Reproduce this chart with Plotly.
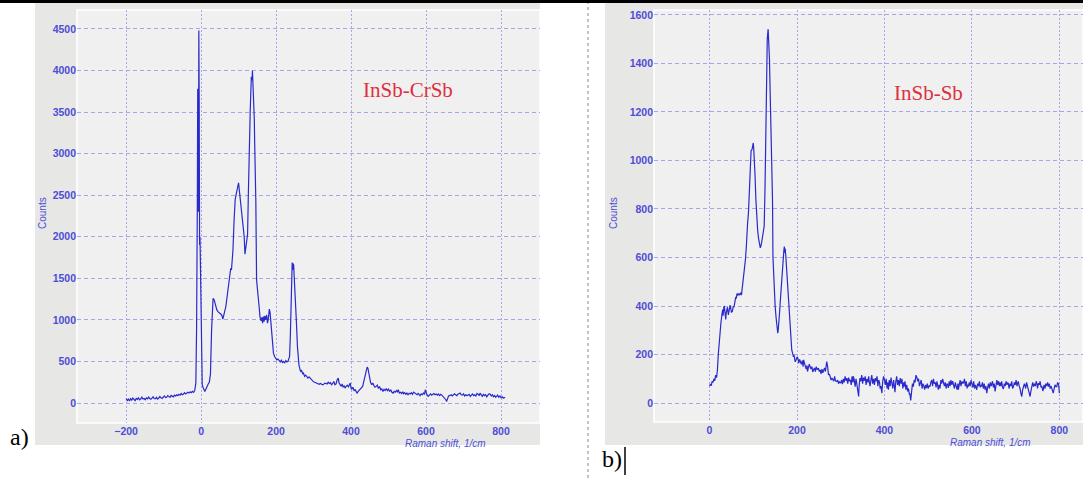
import plotly.graph_objects as go

W, H = 1083, 478

# ---------------- data ----------------
left_points = [
    (-200, 55), (-197, 30), (-194, 48), (-191, 25), (-188, 52), (-185, 35), (-182, 60), (-179, 40),
    (-176, 28), (-173, 55), (-170, 45), (-167, 62), (-164, 38), (-161, 50), (-158, 70), (-155, 48),
    (-152, 55), (-149, 40), (-146, 62), (-143, 50), (-140, 72), (-137, 55), (-134, 45), (-131, 60),
    (-128, 75), (-125, 55), (-122, 50), (-119, 68), (-116, 48), (-113, 60), (-110, 78), (-107, 62),
    (-104, 55), (-101, 72), (-98, 85), (-95, 65), (-92, 70), (-89, 90), (-86, 72), (-83, 68),
    (-80, 92), (-77, 80), (-74, 75), (-71, 95), (-68, 85), (-65, 100), (-62, 90), (-59, 105),
    (-56, 95), (-53, 115), (-50, 100), (-47, 108), (-44, 125), (-41, 110), (-38, 118), (-35, 130),
    (-32, 120), (-29, 135), (-26, 125), (-23, 140), (-20, 128), (-17, 150), (-14, 240), (-12, 900),
    (-10, 2400), (-9, 3780), (-8, 3500), (-7, 2300), (-6, 4480), (-5, 3600), (-4, 1900), (-3, 2000),
    (-2, 1740), (0, 1000), (1, 400), (3, 220), (5, 190), (8, 150), (10, 140), (13, 170),
    (16, 210), (19, 230), (22, 250), (25, 350), (28, 880), (30, 1150), (32, 1260), (35, 1240),
    (38, 1170), (42, 1120), (45, 1100), (48, 1090), (52, 1080), (55, 1060), (58, 1010), (60, 1040),
    (63, 1100), (66, 1160), (70, 1300), (73, 1420), (76, 1550), (79, 1620), (81, 1600), (83, 1700),
    (85, 1840), (88, 2200), (91, 2450), (94, 2520), (97, 2600), (100, 2650), (102, 2560), (104, 2480),
    (106, 2435), (109, 2300), (112, 2150), (115, 2000), (117, 1790), (119, 1850), (122, 1960), (124, 2030),
    (126, 2500), (128, 3000), (131, 3500), (134, 3925), (136, 3880), (137, 4000), (139, 3800), (140, 3720),
    (142, 3400), (143, 3120), (145, 2700), (146, 2430), (148, 1480), (150, 1350), (152, 1300), (155, 1150),
    (157, 1040), (160, 990), (162, 1030), (164, 960), (166, 1040), (168, 980), (170, 1050), (172, 1000),
    (175, 1060), (177, 960), (179, 1000), (182, 1130), (184, 1090), (186, 1000), (188, 880), (190, 760),
    (193, 600), (196, 560), (199, 540), (202, 520), (205, 530), (208, 508), (211, 495), (214, 515),
    (217, 488), (220, 500), (223, 485), (226, 510), (229, 495), (232, 505), (234, 530), (236, 560),
    (238, 800), (240, 1200), (242, 1500), (243, 1690), (244, 1600), (245, 1680), (247, 1660), (248, 1550),
    (250, 1400), (252, 1280), (254, 1000), (257, 680), (259, 550), (261, 460), (264, 400), (266, 380),
    (268, 390), (271, 352), (273, 360), (276, 320), (279, 335), (282, 310), (285, 300), (288, 315),
    (291, 300), (294, 280), (297, 270), (300, 255), (303, 250), (306, 245), (309, 240), (312, 230),
    (315, 225), (318, 235), (321, 228), (324, 220), (327, 225), (330, 240), (333, 235), (336, 230),
    (339, 250), (342, 235), (345, 245), (348, 220), (351, 235), (354, 260), (357, 220), (360, 230),
    (363, 280), (366, 300), (368, 240), (371, 220), (374, 200), (376, 230), (379, 190), (382, 210),
    (384, 180), (387, 200), (390, 215), (393, 195), (396, 232), (398, 240), (400, 175), (402, 168),
    (405, 190), (408, 150), (411, 160), (414, 130), (416, 120), (419, 140), (422, 155), (425, 170),
    (428, 180), (431, 200), (434, 260), (437, 320), (440, 380), (443, 432), (445, 420), (447, 360),
    (449, 320), (452, 250), (455, 220), (458, 240), (461, 210), (464, 190), (467, 200), (470, 215),
    (473, 175), (476, 200), (479, 160), (482, 170), (485, 140), (488, 165), (491, 150), (494, 175),
    (497, 150), (500, 168), (503, 140), (506, 160), (509, 130), (512, 120), (515, 140), (518, 130),
    (521, 150), (524, 135), (526, 160), (529, 120), (532, 130), (535, 115), (538, 135), (540, 112),
    (543, 125), (546, 105), (549, 120), (552, 100), (555, 118), (558, 110), (561, 125), (564, 105),
    (567, 132), (570, 120), (573, 110), (576, 100), (579, 115), (582, 95), (584, 88), (587, 110),
    (590, 100), (593, 120), (596, 105), (598, 160), (600, 120), (603, 95), (606, 80), (609, 100),
    (612, 110), (615, 95), (618, 105), (621, 115), (624, 100), (627, 108), (630, 95), (633, 110),
    (636, 90), (639, 105), (642, 95), (645, 80), (648, 70), (651, 60), (653, 40), (655, 20),
    (657, 60), (660, 85), (664, 92), (667, 100), (670, 85), (673, 95), (676, 110), (679, 100),
    (682, 90), (685, 105), (688, 115), (691, 120), (694, 100), (697, 95), (700, 110), (703, 85),
    (706, 100), (709, 90), (712, 95), (715, 105), (718, 80), (721, 95), (724, 110), (727, 90),
    (730, 100), (733, 85), (736, 115), (739, 105), (742, 90), (744, 120), (747, 95), (750, 80),
    (753, 105), (756, 90), (759, 100), (762, 75), (765, 95), (768, 110), (771, 108), (774, 85),
    (777, 100), (780, 75), (783, 90), (786, 70), (788, 80), (791, 95), (794, 70), (797, 85),
    (800, 65), (803, 75), (806, 60), (808, 68), (811, 60),
]

right_points = [
    (0, 70), (2, 78), (4, 72), (6, 90), (8, 85), (10, 100), (12, 92), (14, 115), (16, 105), (18, 135),
    (20, 200), (22, 260), (24, 300), (26, 330), (28, 360), (30, 385), (31, 360), (33, 400), (34, 397),
    (35, 380), (37, 345), (38, 370), (40, 384), (41, 395), (43, 363), (44, 375), (46, 390), (47, 404),
    (49, 385), (50, 375), (52, 377), (54, 395), (56, 397), (58, 420), (60, 438), (61, 430), (63, 452),
    (65, 445), (67, 450), (69, 445), (71, 455), (73, 445), (74, 459), (76, 490), (78, 521), (80, 560),
    (82, 590), (84, 640), (85, 685), (87, 740), (89, 784), (91, 900), (93, 1000), (95, 1040), (97, 1044),
    (98, 1060), (100, 1072), (101, 1050), (103, 990), (104, 940), (106, 838), (108, 760), (110, 713),
    (112, 680), (114, 658), (116, 640), (117, 644), (119, 660), (121, 685), (123, 710), (125, 729),
    (127, 900), (129, 1209), (130, 1350), (131, 1442), (132, 1500), (134, 1541), (135, 1510), (136, 1504),
    (137, 1420), (138, 1332), (140, 1180), (141, 1085), (143, 950), (144, 838), (145, 603), (147, 500),
    (148, 438), (150, 400), (152, 356), (154, 330), (156, 288), (157, 300), (158, 315), (160, 370),
    (162, 425), (164, 490), (166, 548), (168, 600), (170, 630), (171, 645), (172, 620), (173, 637),
    (175, 589), (177, 530), (179, 479), (181, 410), (182, 370), (184, 300), (185, 260), (187, 230),
    (188, 219), (190, 205), (192, 190), (193, 199), (195, 185), (196, 170), (198, 178), (200, 190),
    (202, 185), (204, 165), (206, 180), (208, 171), (210, 160), (212, 175), (214, 150), (215, 178),
    (217, 165), (219, 151), (221, 140), (223, 155), (224, 130), (226, 145), (228, 160), (230, 151),
    (232, 140), (234, 150), (236, 128), (238, 137), (240, 145), (242, 130), (244, 150), (246, 138),
    (249, 144), (251, 130), (253, 137), (255, 120), (257, 140), (259, 125), (261, 137), (263, 145),
    (265, 130), (267, 150), (268, 171), (270, 150), (272, 116), (274, 120), (276, 110), (278, 95),
    (280, 103), (282, 98), (284, 90), (286, 110), (288, 92), (291, 89), (293, 95), (295, 80), (297, 88),
    (300, 82), (302, 95), (304, 78), (306, 100), (308, 85), (310, 110), (312, 92), (314, 103), (316, 80),
    (318, 105), (320, 90), (322, 96), (324, 75), (326, 110), (328, 85), (329, 110), (331, 95), (333, 68),
    (335, 100), (337, 68), (339, 60), (341, 27), (342, 70), (344, 103), (346, 90), (348, 115), (350, 80),
    (352, 105), (354, 92), (356, 110), (358, 75), (360, 100), (362, 85), (364, 110), (365, 89), (367, 70),
    (369, 95), (371, 115), (373, 80), (375, 100), (377, 75), (379, 103), (381, 90), (383, 110), (385, 70),
    (387, 95), (389, 82), (390, 60), (392, 70), (394, 41), (396, 90), (398, 110), (400, 96), (402, 75),
    (404, 100), (406, 60), (408, 85), (409, 55), (411, 95), (413, 70), (415, 105), (417, 89), (419, 60),
    (421, 95), (422, 68), (424, 45), (426, 90), (428, 110), (430, 75), (432, 95), (434, 70), (436, 103),
    (438, 80), (440, 100), (442, 60), (444, 85), (445, 68), (447, 90), (449, 55), (451, 75), (453, 48),
    (455, 60), (457, 35), (458, 40), (460, 11), (462, 45), (464, 80), (466, 68), (468, 95), (470, 85),
    (472, 115), (474, 107), (476, 90), (478, 100), (480, 70), (482, 82), (484, 95), (486, 60), (488, 80),
    (490, 70), (492, 55), (494, 75), (496, 62), (498, 80), (500, 60), (502, 72), (504, 68), (506, 85),
    (508, 95), (510, 70), (512, 100), (514, 80), (516, 85), (518, 65), (520, 90), (522, 70), (523, 55),
    (525, 75), (527, 60), (529, 95), (531, 80), (533, 100), (535, 89), (537, 70), (539, 85), (541, 60),
    (543, 80), (545, 75), (546, 62), (548, 90), (550, 70), (552, 95), (554, 75), (556, 90), (558, 75),
    (560, 60), (562, 85), (564, 70), (566, 55), (568, 80), (569, 55), (571, 75), (573, 95), (575, 70),
    (577, 90), (579, 80), (581, 85), (583, 100), (585, 70), (587, 90), (589, 60), (590, 75), (592, 68),
    (594, 85), (596, 70), (598, 95), (600, 79), (602, 65), (604, 90), (606, 60), (608, 75), (609, 70),
    (611, 55), (613, 80), (615, 70), (617, 90), (619, 65), (621, 75), (622, 68), (624, 85), (626, 60),
    (628, 80), (630, 55), (632, 70), (634, 41), (636, 65), (638, 80), (640, 60), (642, 85), (644, 70),
    (645, 75), (647, 90), (649, 65), (651, 80), (653, 48), (655, 70), (657, 95), (659, 75), (661, 90),
    (663, 70), (664, 85), (666, 70), (668, 90), (670, 65), (672, 58), (674, 80), (676, 70), (678, 90),
    (680, 75), (682, 85), (683, 82), (685, 60), (687, 80), (689, 70), (691, 90), (693, 60), (695, 68),
    (697, 85), (699, 75), (701, 95), (703, 70), (705, 85), (706, 89), (708, 70), (710, 60), (712, 40),
    (714, 27), (716, 55), (718, 75), (720, 80), (721, 75), (723, 60), (725, 85), (727, 70), (729, 55),
    (731, 40), (733, 27), (735, 50), (737, 70), (739, 85), (741, 68), (743, 80), (745, 70), (747, 90),
    (749, 75), (750, 60), (752, 82), (754, 75), (756, 90), (758, 65), (760, 70), (762, 50), (763, 55),
    (765, 75), (767, 60), (769, 80), (771, 70), (773, 85), (775, 68), (777, 80), (779, 60), (781, 70),
    (783, 55), (784, 45), (786, 41), (788, 60), (790, 75), (792, 68), (794, 68), (796, 85), (798, 79),
    (799, 60), (800, 41),
]

left_xticks = [-200, 0, 200, 400, 600, 800]
left_yticks = [0, 500, 1000, 1500, 2000, 2500, 3000, 3500, 4000, 4500]
right_xticks = [0, 200, 400, 600, 800]
right_yticks = [0, 200, 400, 600, 800, 1000, 1200, 1400, 1600]
left_label = "InSb-CrSb"
right_label = "InSb-Sb"
x_title = "Raman shift, 1/cm"
y_title = "Counts"
# ---------------------------------------------------------------

def px(x):
    return x / W

def py(y):
    return 1 - y / H

LINE = "#2a2acc"
TICK = "#4d4dd6"
GRID = "#a6a6ea"
FRAME = "#e7e7e5"
PLOTBG = "#f0f0f0"

lx, ly = zip(*left_points)
rx, ry = zip(*right_points)

fig = go.Figure()
fig.add_trace(go.Scatter(x=lx, y=ly, mode="lines", line=dict(color=LINE, width=1.2),
                         xaxis="x", yaxis="y", showlegend=False))
fig.add_trace(go.Scatter(x=rx, y=ry, mode="lines", line=dict(color=LINE, width=1.2),
                         xaxis="x2", yaxis="y2", showlegend=False))

tickfont = dict(family="Liberation Sans, Arial", size=10.5, color=TICK, weight="bold")

def xa(domain, rng, ticks):
    return dict(domain=domain, range=rng, tickvals=ticks, showgrid=True, gridcolor=GRID,
                griddash="2px,2px", gridwidth=1, zeroline=False, showline=False, ticks="",
                tickfont=tickfont, fixedrange=True)

def ya(domain, rng, ticks, anchor):
    return dict(domain=domain, range=rng, tickvals=ticks, showgrid=True, gridcolor=GRID,
                griddash="4px,3px", gridwidth=1, zeroline=False, showline=False, ticks="",
                tickfont=tickfont, anchor=anchor, fixedrange=True)

fig.update_layout(
    width=W, height=H, margin=dict(l=0, r=0, t=0, b=0),
    paper_bgcolor="white", plot_bgcolor="rgba(0,0,0,0)",
    xaxis=xa([px(77), px(540)], [-331, 904], left_xticks) | dict(anchor="y"),
    yaxis=ya([py(423), py(10)], [-240, 4728], left_yticks, "x"),
    xaxis2=xa([px(654), 1.0], [-127, 854], right_xticks) | dict(anchor="y2"),
    yaxis2=ya([py(422), py(10)], [-78, 1620], right_yticks, "x2"),
)

shapes = []
# grey frames
shapes.append(dict(type="rect", xref="paper", yref="paper", x0=px(35), x1=px(540),
                   y0=py(445), y1=py(3), fillcolor=FRAME, line=dict(width=0), layer="below"))
shapes.append(dict(type="rect", xref="paper", yref="paper", x0=px(605), x1=1.0,
                   y0=py(445), y1=py(3), fillcolor=FRAME, line=dict(width=0), layer="below"))
# plot areas with white border
shapes.append(dict(type="rect", xref="paper", yref="paper", x0=px(77), x1=px(540),
                   y0=py(423), y1=py(10), fillcolor=PLOTBG,
                   line=dict(color="white", width=1.5), layer="below"))
shapes.append(dict(type="rect", xref="paper", yref="paper", x0=px(654), x1=1.0,
                   y0=py(422), y1=py(10), fillcolor=PLOTBG,
                   line=dict(color="white", width=1.5), layer="below"))
# top black strip
shapes.append(dict(type="rect", xref="paper", yref="paper", x0=0, x1=1, y0=py(3), y1=1,
                   fillcolor="black", line=dict(width=0)))
# dotted separator between panels
shapes.append(dict(type="line", xref="paper", yref="paper", x0=px(588), x1=px(588),
                   y0=0, y1=py(3), line=dict(color="#888888", width=1, dash="dot")))
# text cursor after b)
shapes.append(dict(type="line", xref="paper", yref="paper", x0=px(625), x1=px(625),
                   y0=py(475), y1=py(447), line=dict(color="black", width=1.5)))
fig.update_layout(shapes=shapes)

ann = []
def text(x, y, s, size, color, family, xanchor="center", angle=0):
    ann.append(dict(x=px(x), y=py(y), xref="paper", yref="paper", text=s, showarrow=False,
                    font=dict(size=size, color=color, family=family), xanchor=xanchor,
                    yanchor="middle", textangle=angle))

sans = "Liberation Sans, Arial"
serif = "Liberation Serif, Times New Roman"
text(445, 443, "<i>" + x_title + "</i>", 10, TICK, sans)
text(990, 442, "<i>" + x_title + "</i>", 10, TICK, sans)
text(42, 213, y_title, 10, TICK, sans, angle=-90)
text(613, 213, y_title, 10, TICK, sans, angle=-90)
text(408, 90, left_label, 21, "#dc3040", serif)
text(928, 93, right_label, 21, "#dc3040", serif)
text(19, 437, "a)", 24, "black", serif)
text(612, 459, "b)", 24, "black", serif)
fig.update_layout(annotations=ann)

fig.write_html("out.html", config={"displayModeBar": False},
               post_script="document.body.style.margin='0';document.body.style.padding='0';")
